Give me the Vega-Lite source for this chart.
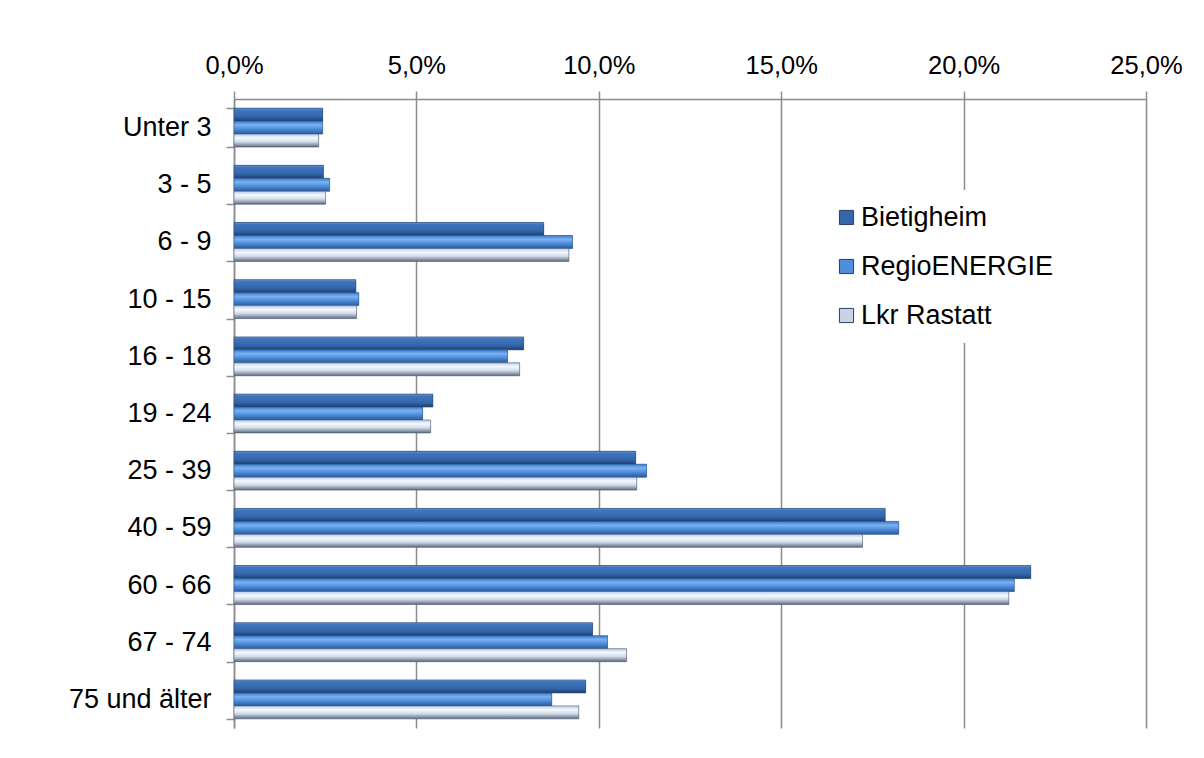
{
  "$schema": "https://vega.github.io/schema/vega-lite/v6.json",
  "width": 912,
  "height": 629,
  "autosize": {"type": "none"},
  "padding": {"left": 234, "top": 99, "right": 58, "bottom": 30},
  "background": "white",
  "config": {
    "locale": {"number": {"decimal": ",", "thousands": ".", "grouping": [3], "currency": ["", " €"]}},
    "view": {"stroke": null},
    "font": "Liberation Sans"
  },
  "data": {
    "values": [
      {"Altersgruppe": "Unter 3", "Region": "Bietigheim", "Anteil": 0.0243},
      {"Altersgruppe": "Unter 3", "Region": "RegioENERGIE", "Anteil": 0.0243},
      {"Altersgruppe": "Unter 3", "Region": "Lkr Rastatt", "Anteil": 0.0232},
      {"Altersgruppe": "3 - 5", "Region": "Bietigheim", "Anteil": 0.0245},
      {"Altersgruppe": "3 - 5", "Region": "RegioENERGIE", "Anteil": 0.0262},
      {"Altersgruppe": "3 - 5", "Region": "Lkr Rastatt", "Anteil": 0.0251},
      {"Altersgruppe": "6 - 9", "Region": "Bietigheim", "Anteil": 0.0849},
      {"Altersgruppe": "6 - 9", "Region": "RegioENERGIE", "Anteil": 0.0928},
      {"Altersgruppe": "6 - 9", "Region": "Lkr Rastatt", "Anteil": 0.0918},
      {"Altersgruppe": "10 - 15", "Region": "Bietigheim", "Anteil": 0.0334},
      {"Altersgruppe": "10 - 15", "Region": "RegioENERGIE", "Anteil": 0.0342},
      {"Altersgruppe": "10 - 15", "Region": "Lkr Rastatt", "Anteil": 0.0336},
      {"Altersgruppe": "16 - 18", "Region": "Bietigheim", "Anteil": 0.0794},
      {"Altersgruppe": "16 - 18", "Region": "RegioENERGIE", "Anteil": 0.0750},
      {"Altersgruppe": "16 - 18", "Region": "Lkr Rastatt", "Anteil": 0.0783},
      {"Altersgruppe": "19 - 24", "Region": "Bietigheim", "Anteil": 0.0545},
      {"Altersgruppe": "19 - 24", "Region": "RegioENERGIE", "Anteil": 0.0517},
      {"Altersgruppe": "19 - 24", "Region": "Lkr Rastatt", "Anteil": 0.0539},
      {"Altersgruppe": "25 - 39", "Region": "Bietigheim", "Anteil": 0.1101},
      {"Altersgruppe": "25 - 39", "Region": "RegioENERGIE", "Anteil": 0.1131},
      {"Altersgruppe": "25 - 39", "Region": "Lkr Rastatt", "Anteil": 0.1104},
      {"Altersgruppe": "40 - 59", "Region": "Bietigheim", "Anteil": 0.1785},
      {"Altersgruppe": "40 - 59", "Region": "RegioENERGIE", "Anteil": 0.1822},
      {"Altersgruppe": "40 - 59", "Region": "Lkr Rastatt", "Anteil": 0.1723},
      {"Altersgruppe": "60 - 66", "Region": "Bietigheim", "Anteil": 0.2184},
      {"Altersgruppe": "60 - 66", "Region": "RegioENERGIE", "Anteil": 0.2139},
      {"Altersgruppe": "60 - 66", "Region": "Lkr Rastatt", "Anteil": 0.2124},
      {"Altersgruppe": "67 - 74", "Region": "Bietigheim", "Anteil": 0.0983},
      {"Altersgruppe": "67 - 74", "Region": "RegioENERGIE", "Anteil": 0.1024},
      {"Altersgruppe": "67 - 74", "Region": "Lkr Rastatt", "Anteil": 0.1076},
      {"Altersgruppe": "75 und älter", "Region": "Bietigheim", "Anteil": 0.0964},
      {"Altersgruppe": "75 und älter", "Region": "RegioENERGIE", "Anteil": 0.0871},
      {"Altersgruppe": "75 und älter", "Region": "Lkr Rastatt", "Anteil": 0.0945}
    ]
  },
  "encoding": {
    "y": {
      "field": "Altersgruppe",
      "type": "nominal",
      "sort": ["Unter 3", "3 - 5", "6 - 9", "10 - 15", "16 - 18", "19 - 24", "25 - 39", "40 - 59", "60 - 66", "67 - 74", "75 und älter"],
      "scale": {"paddingInner": 0.32, "paddingOuter": 0.16},
      "axis": {
        "title": null,
        "labelFontSize": 27,
        "labelColor": "black",
        "labelLimit": 300,
        "tickBand": "extent",
        "tickSize": 8,
        "labelPadding": 15,
        "domainColor": "#8c8c8c",
        "domainWidth": 1.5,
        "tickColor": "#8c8c8c",
        "tickWidth": 1.5,
        "grid": false
      }
    },
    "yOffset": {
      "field": "Region",
      "type": "nominal",
      "sort": ["Bietigheim", "RegioENERGIE", "Lkr Rastatt"],
      "scale": {"domain": ["Bietigheim", "RegioENERGIE", "Lkr Rastatt"], "paddingInner": 0, "paddingOuter": 0}
    },
    "x": {
      "field": "Anteil",
      "type": "quantitative",
      "scale": {"domain": [0, 0.25], "nice": false},
      "axis": {
        "orient": "top",
        "format": ".1%",
        "values": [0, 0.05, 0.1, 0.15, 0.2, 0.25],
        "title": null,
        "labelFontSize": 25.5,
        "labelColor": "black",
        "labelFlush": false,
        "labelPadding": 13,
        "tickSize": 8,
        "tickColor": "#8c8c8c",
        "tickWidth": 1.5,
        "domainColor": "#8c8c8c",
        "domainWidth": 1.5,
        "grid": true,
        "gridColor": "#8c8c8c",
        "gridWidth": 1.5
      }
    }
  },
  "layer": [
    {
      "mark": {"type": "bar"},
      "encoding": {
        "color": {
          "field": "Region",
          "type": "nominal",
          "sort": ["Bietigheim", "RegioENERGIE", "Lkr Rastatt"],
          "scale": {
            "domain": ["Bietigheim", "RegioENERGIE", "Lkr Rastatt"],
            "range": ["#3566aa", "#4f8edc", "#c9d3e3"]
          },
          "legend": {
            "title": null,
            "orient": "none",
            "legendX": 585,
            "legendY": 91,
            "fillColor": "white",
            "padding": 14,
            "labelFontSize": 27,
            "labelColor": "black",
            "labelLimit": 400,
            "symbolType": "square",
            "symbolSize": 200,
            "symbolStrokeWidth": 1,
            "symbolStrokeColor": "#2a3f60",
            "rowPadding": 21,
            "labelOffset": 1
          }
        }
      }
    },
    {
      "transform": [{"filter": "datum.Region === 'Bietigheim'"}],
      "mark": {"type": "bar", "stroke": "#24416e", "strokeWidth": 0.6, "color": {"gradient": "linear", "x1": 0, "y1": 0, "x2": 0, "y2": 1, "stops": [
        {"offset": 0, "color": "#6a9ad6"}, {"offset": 0.15, "color": "#3f75be"}, {"offset": 0.65, "color": "#3566aa"}, {"offset": 1, "color": "#1e3f70"}]}}
    },
    {
      "transform": [{"filter": "datum.Region === 'RegioENERGIE'"}],
      "mark": {"type": "bar", "stroke": "#2a5690", "strokeWidth": 0.6, "color": {"gradient": "linear", "x1": 0, "y1": 0, "x2": 0, "y2": 1, "stops": [
        {"offset": 0, "color": "#3d7bcb"}, {"offset": 0.3, "color": "#79b3f2"}, {"offset": 0.6, "color": "#4f8edc"}, {"offset": 1, "color": "#2a5a9c"}]}}
    },
    {
      "transform": [{"filter": "datum.Region === 'Lkr Rastatt'"}],
      "mark": {"type": "bar", "stroke": "#4e5a6e", "strokeWidth": 0.6, "color": {"gradient": "linear", "x1": 0, "y1": 0, "x2": 0, "y2": 1, "stops": [
        {"offset": 0, "color": "#b8cde8"}, {"offset": 0.3, "color": "#f4f9ff"}, {"offset": 0.6, "color": "#d2dbe8"}, {"offset": 1, "color": "#5e6b80"}]}}
    }
  ]
}
